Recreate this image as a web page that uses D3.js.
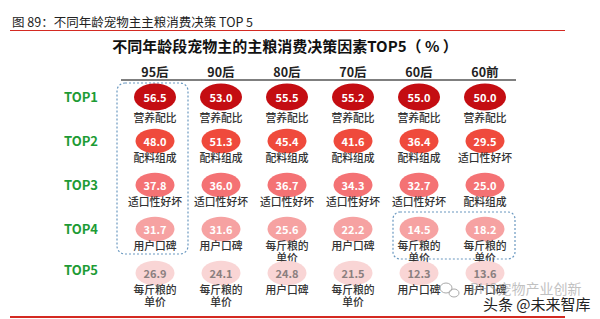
<!DOCTYPE html>
<html>
<head>
<meta charset="utf-8">
<script src="https://cdn.jsdelivr.net/npm/d3@7"></script>
<style>
  body { margin: 0; background: #fff; }
  text { font-family: "Noto Sans CJK SC", "Noto Sans", sans-serif; }
</style>
</head>
<body>
<svg></svg>
<script>
const cohorts = ['95后', '90后', '80后', '70后', '60后', '60前'];
const ranks = ['TOP1', 'TOP2', 'TOP3', 'TOP4', 'TOP5'];
const values = [
  [56.5, 53.0, 55.5, 55.2, 55.0, 50.0],
  [48.0, 51.3, 45.4, 41.6, 36.4, 29.5],
  [37.8, 36.0, 36.7, 34.3, 32.7, 25.0],
  [31.7, 31.6, 25.6, 22.2, 14.5, 18.2],
  [26.9, 24.1, 24.8, 21.5, 12.3, 13.6]
];
const factors = [
  ['营养配比', '营养配比', '营养配比', '营养配比', '营养配比', '营养配比'],
  ['配料组成', '配料组成', '配料组成', '配料组成', '配料组成', '适口性好坏'],
  ['适口性好坏', '适口性好坏', '适口性好坏', '适口性好坏', '适口性好坏', '配料组成'],
  ['用户口碑', '用户口碑', '每斤粮的单价', '用户口碑', '每斤粮的单价', '每斤粮的单价'],
  ['每斤粮的单价', '每斤粮的单价', '用户口碑', '每斤粮的单价', '用户口碑', '用户口碑']
];
const rankColors = ['#c40d12', '#ef4a3c', '#f47274', '#f6a2a2', '#f9d5d5'];
const valueColors = ['#fff', '#fff', '#fff', '#fff', '#8b7f7f'];

const width = 600, height = 319;
const svg = d3.select('svg').attr('width', width).attr('height', height);

const x = d3.scalePoint().domain(cohorts).range([155, 485]);
const y = d3.scalePoint().domain(ranks).range([97, 273]);

// report caption
svg.append('text')
  .attr('x', 12).attr('y', 27)
  .attr('font-size', 12.5).attr('fill', '#222')
  .text('图 89：不同年龄宠物主主粮消费决策 TOP 5');
svg.append('line')
  .attr('x1', 10).attr('x2', 565).attr('y1', 30.5).attr('y2', 30.5)
  .attr('stroke', '#d42a22').attr('stroke-width', 1.2);

svg.append('text')
  .attr('x', 285).attr('y', 52)
  .attr('text-anchor', 'middle')
  .attr('font-size', 15).attr('font-weight', 'bold').attr('fill', '#111')
  .text('不同年龄段宠物主的主粮消费决策因素TOP5（ % ）');

// column headers
svg.append('g').selectAll('text')
  .data(cohorts)
  .join('text')
    .attr('x', d => x(d)).attr('y', 77)
    .attr('text-anchor', 'middle')
    .attr('font-size', 12.5).attr('font-weight', 'bold').attr('fill', '#222')
    .text(d => d);
svg.append('line')
  .attr('x1', 121).attr('x2', 516).attr('y1', 80).attr('y2', 80)
  .attr('stroke', '#555').attr('stroke-width', 1.6);

// row labels
svg.append('g').selectAll('text')
  .data(ranks)
  .join('text')
    .attr('x', 81).attr('y', (d, i) => y(d) + 5 - (i === 4 ? 3 : 0))
    .attr('text-anchor', 'middle')
    .attr('font-family', 'DejaVu Sans, sans-serif')
    .attr('font-size', 13).attr('font-weight', 'bold').attr('fill', '#1d9b35')
    .text(d => d);

// dashed highlight boxes
svg.append('rect')
  .attr('x', 117).attr('y', 83).attr('width', 71).attr('height', 171)
  .attr('rx', 8)
  .attr('fill', 'none').attr('stroke', '#6a98c0').attr('stroke-width', 1.2)
  .attr('stroke-dasharray', '2,2');
svg.append('rect')
  .attr('x', 393).attr('y', 212).attr('width', 122).attr('height', 47)
  .attr('rx', 7)
  .attr('fill', 'none').attr('stroke', '#6a98c0').attr('stroke-width', 1.2)
  .attr('stroke-dasharray', '2,2');

const cells = [];
values.forEach((row, i) => row.forEach((v, j) => {
  cells.push({rank: ranks[i], ri: i, cohort: cohorts[j], value: v, factor: factors[i][j]});
}));

const cell = svg.append('g').selectAll('g')
  .data(cells)
  .join('g')
    .attr('transform', d => `translate(${x(d.cohort)},${y(d.rank)})`);

cell.append('ellipse')
  .attr('rx', d => d.ri === 0 ? 21 : 19.5)
  .attr('ry', d => d.ri === 0 ? 13.5 : 12.2)
  .attr('fill', d => rankColors[d.ri]);

cell.append('text')
  .attr('y', 4.5)
  .attr('text-anchor', 'middle')
  .attr('font-family', 'DejaVu Sans, sans-serif')
  .attr('font-size', 11).attr('font-weight', 'bold')
  .attr('fill', d => valueColors[d.ri])
  .text(d => d.value.toFixed(1));

cell.each(function(d) {
  const lines = d.factor === '每斤粮的单价' ? ['每斤粮的', '单价'] : [d.factor];
  d3.select(this).selectAll('text.f')
    .data(lines)
    .join('text')
      .attr('class', 'f')
      .attr('y', (l, k) => (d.ri === 0 ? 25 : 21) + k * 11.5)
      .attr('text-anchor', 'middle')
      .attr('font-size', 10.8).attr('font-weight', 500).attr('fill', '#333')
      .text(l => l);
});

// watermark
const wm = svg.append('g').attr('fill', 'none').attr('stroke', '#aaa').attr('stroke-width', 1);
wm.append('ellipse').attr('cx', 446).attr('cy', 288).attr('rx', 6).attr('ry', 5);
wm.append('ellipse').attr('cx', 454).attr('cy', 293).attr('rx', 5).attr('ry', 4);
svg.append('text')
  .attr('x', 470).attr('y', 294)
  .attr('font-size', 14).attr('fill', '#999').attr('opacity', 0.6)
  .text('PHS宠物产业创新');
svg.append('text')
  .attr('x', 483).attr('y', 310)
  .attr('font-size', 15).attr('fill', '#222')
  .text('头条 @未来智库');

svg.append('line')
  .attr('x1', 10).attr('x2', 565).attr('y1', 317).attr('y2', 317)
  .attr('stroke', '#d42a22').attr('stroke-width', 2.2);
</script>
</body>
</html>
